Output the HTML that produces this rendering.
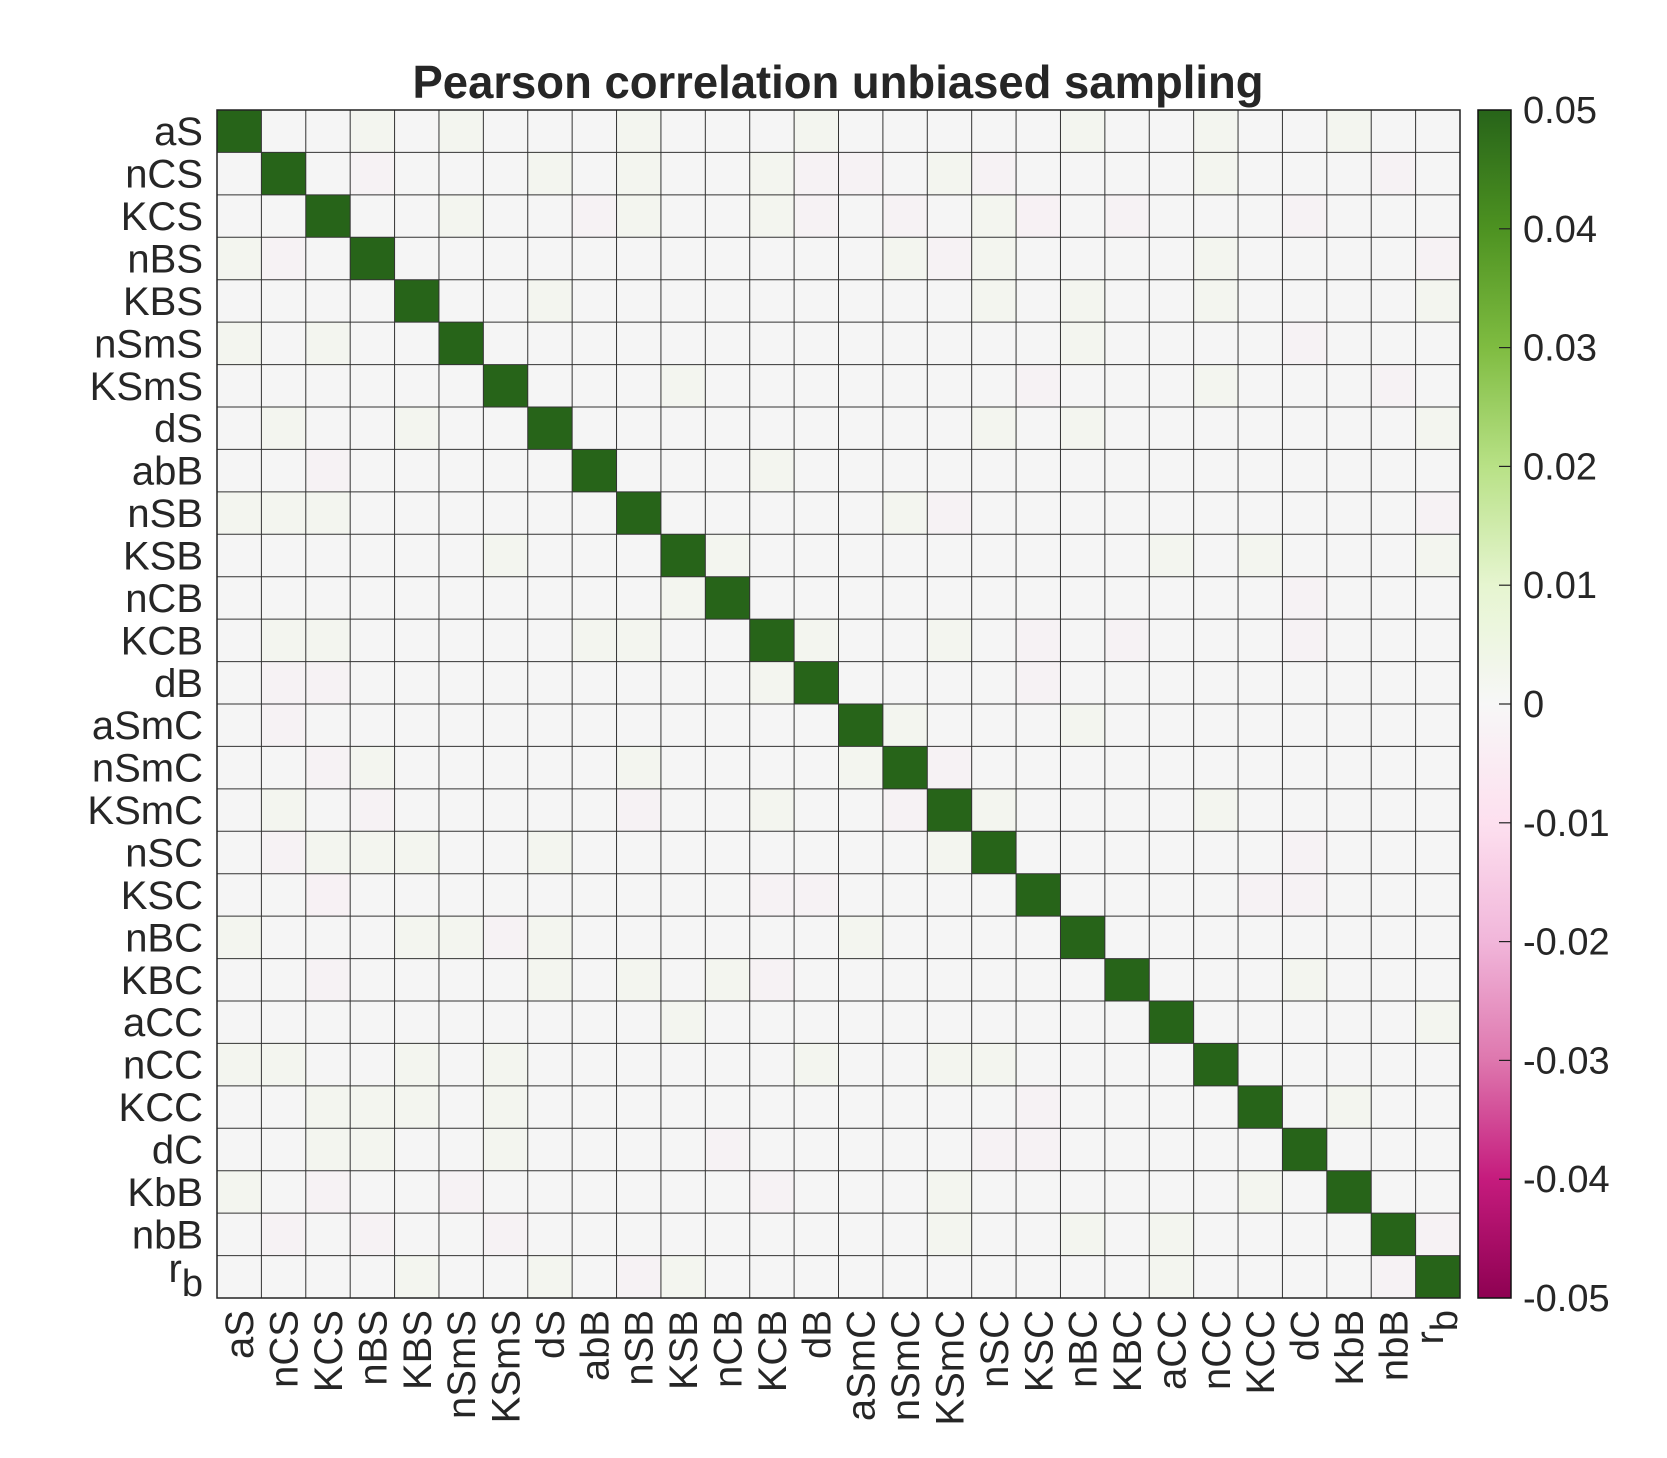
<!DOCTYPE html>
<html><head><meta charset="utf-8"><style>
html,body{margin:0;padding:0;background:#fff;}
svg{display:block;font-family:"Liberation Sans",Arial,sans-serif;}
</style></head><body>
<svg id="chart" width="1667" height="1458" viewBox="0 0 1667 1458" xmlns="http://www.w3.org/2000/svg">
<defs>
<linearGradient id="piyg" x1="0" y1="1" x2="0" y2="0">
<stop offset="0" stop-color="#8e0152"/><stop offset="0.1" stop-color="#c51b7d"/><stop offset="0.2" stop-color="#de77ae"/><stop offset="0.3" stop-color="#f1b6da"/><stop offset="0.4" stop-color="#fde0ef"/><stop offset="0.5" stop-color="#f7f7f7"/><stop offset="0.6" stop-color="#e6f5d0"/><stop offset="0.7" stop-color="#b8e186"/><stop offset="0.8" stop-color="#7fbc41"/><stop offset="0.9" stop-color="#4d9221"/><stop offset="1" stop-color="#276419"/>
</linearGradient>
</defs>
<text x="838" y="98" text-anchor="middle" font-size="46" font-weight="bold" fill="#262626" textLength="851" lengthAdjust="spacingAndGlyphs">Pearson correlation unbiased sampling</text>
<g id="cells"></g>
<g id="grid"></g>
<rect x="217" y="110" width="1243" height="1188" fill="none" stroke="#222" stroke-width="1.5"/>
<g id="ylabels"></g>
<g id="xlabels"></g>
<rect x="1478" y="110" width="33" height="1188" fill="url(#piyg)" stroke="#111" stroke-width="1.5"/>
<g id="cbticks"></g>
</svg>
<script>
const categories = ["aS","nCS","KCS","nBS","KBS","nSmS","KSmS","dS","abB","nSB","KSB","nCB","KCB","dB","aSmC","nSmC","KSmC","nSC","KSC","nBC","KBC","aCC","nCC","KCC","dC","KbB","nbB","r_b"];
const diagValues = [1,1,1,1,1,1,1,1,1,1,1,1,1,1,1,1,1,1,1,1,1,1,1,1,1,1,1,1];
const cellRows = [0,0,0,0,0,0,0, 1,1,1,1,1,1,1,1,1,1, 2,2,2,2,2,2,2,2,2,2, 3,3,3,3,3,3,3, 4,4,4,4,4, 5,5,5,5, 6,6,6,6, 7,7,7,7,7, 8,8, 9,9,9,9,9,9, 10,10,10,10,10, 11,11, 12,12,12,12,12,12,12,12,12, 13,13,13,13, 14,14,14, 15,15,15,15,15, 16,16,16,16,16,16,16, 17,17,17,17,17,17,17, 18,18,18,18,18, 19,19,19,19,19,19, 20,20,20,20,20,20, 21,21, 22,22,22,22,22,22,22, 23,23,23,23,23,23, 24,24,24,24,24,24, 25,25,25,25,25,25, 26,26,26,26,26,26,26, 27,27,27,27,27,27,27];
const cellCols = [3,5,9,13,19,22,25, 3,7,9,12,13,14,16,17,22,26, 5,8,9,12,13,15,17,18,20,24, 0,1,15,16,17,22,27, 7,17,19,22,27, 0,2,19,24, 10,18,22,26, 1,4,17,19,27, 2,12, 0,1,2,15,16,27, 6,11,21,23,27, 10,24, 1,2,8,9,13,16,18,20,24, 1,2,12,18, 1,15,19, 2,3,9,14,16, 1,3,9,12,15,17,22, 1,2,3,4,7,16,24, 2,12,13,23,24, 0,4,5,6,7,14, 2,7,9,11,12,24, 10,27, 0,1,4,6,13,16,17, 2,3,4,6,18,25, 2,3,6,11,17,18, 0,2,5,12,16,23, 1,6,16,19,21,27, 3,4,7,9,10,21,26];
const cellValues = [.0015,.0015,.0015,.0015,.0015,.0015,.0015, -.0015,.0015,.0015,.0015,-.0015,-.0015,.0015,-.0015,.0015,-.0015, .0015,-.0015,.0015,.0015,-.0015,-.0015,.0015,-.002,-.0015,-.0015, .0015,-.0015,.0015,-.0015,.0015,.0015,-.0015, .0015,.0015,.0015,.0015,.0015, .0015,.0015,.0015,-.0015, .0015,-.0015,.0015,-.0015, .0015,.0015,.0015,.0015,.0015, -.0015,.0015, .0015,.0015,.0015,.0015,-.0015,-.0015, .0015,.0015,.0015,.0015,.0015, .0015,-.0015, .0015,.0015,.0015,.0015,.0015,.0015,-.0015,-.0015,-.0015, -.0015,-.0015,.0015,-.0015, -.0015,.0015,.0015, -.0015,.0015,.0015,.0015,-.0015, .0015,-.0015,-.0015,.0015,-.0015,.0015,.0015, -.0015,.0015,.0015,.0015,.0015,.0015,-.0015, -.002,-.0015,-.0015,-.0015,-.0015, .0015,.0015,.0015,-.0015,.0015,.0015, -.0015,.0015,.0015,.0015,-.0015,.0015, .0015,.0015, .0015,.0015,.0015,.0015,.0015,.0015,.0015, .0015,.0015,.0015,.0015,-.0015,.0015, .0015,.0015,.0015,-.0015,-.0015,-.0015, .0015,-.0015,-.0015,-.0015,.0015,.0015, -.0015,-.0015,.0015,.0015,.0015,-.0015, -.0015,.0015,.0015,-.0015,.0015,.0015,-.0015];
const tickValues = [0.05,0.04,0.03,0.02,0.01,0,-0.01,-0.02,-0.03,-0.04,-0.05];
const tickLabels = ["0.05","0.04","0.03","0.02","0.01","0","-0.01","-0.02","-0.03","-0.04","-0.05"];

const NS="http://www.w3.org/2000/svg";
const X0=217,X1=1460,Y0=110,Y1=1298,N=categories.length;
const cw=(X1-X0)/N, ch=(Y1-Y0)/N;
const xPos=i=>X0+i*cw, yPos=i=>Y0+i*ch;
const cbY=v=>Y0+(0.05-v)/0.1*(Y1-Y0);
const stops=[[142,1,82],[197,27,125],[222,119,174],[241,182,218],[253,224,239],[245,245,245],[230,245,208],[184,225,134],[127,188,65],[77,146,33],[39,100,25]];
function color(v){
  let t=(Math.max(-0.05,Math.min(0.05,v))+0.05)/0.1*10;
  let i=Math.min(9,Math.floor(t)),f=t-i;
  const a=stops[i],b=stops[i+1];
  const c=a.map((x,k)=>Math.round(x+(b[k]-x)*f));
  return `rgb(${c[0]},${c[1]},${c[2]})`;
}
const M=[];
for(let r=0;r<N;r++){M.push(new Array(N).fill(0));M[r][r]=diagValues[r];}
for(let k=0;k<cellRows.length;k++){M[cellRows[k]][cellCols[k]]=cellValues[k];}
const gC=document.getElementById('cells');
for(let r=0;r<N;r++)for(let c=0;c<N;c++){
  const e=document.createElementNS(NS,'rect');
  e.setAttribute('x',xPos(c));e.setAttribute('y',yPos(r));
  e.setAttribute('width',cw+0.5);e.setAttribute('height',ch+0.5);
  e.setAttribute('fill',color(M[r][c]));
  
  
  gC.appendChild(e);
}
const gG=document.getElementById('grid');
for(let i=1;i<N;i++){
  const l1=document.createElementNS(NS,'line');
  l1.setAttribute('x1',xPos(i));l1.setAttribute('x2',xPos(i));l1.setAttribute('y1',Y0);l1.setAttribute('y2',Y1);
  l1.setAttribute('stroke','#333');l1.setAttribute('stroke-width','1');
  
  
  gG.appendChild(l1);
  const l2=document.createElementNS(NS,'line');
  l2.setAttribute('y1',yPos(i));l2.setAttribute('y2',yPos(i));l2.setAttribute('x1',X0);l2.setAttribute('x2',X1);
  l2.setAttribute('stroke','#333');l2.setAttribute('stroke-width','1');
  
  
  gG.appendChild(l2);
}
function labelContent(t,name){
  if(name==='r_b'){
    const a=document.createElementNS(NS,'tspan');a.textContent='r';
    const b=document.createElementNS(NS,'tspan');b.textContent='b';b.setAttribute('dy','14');b.setAttribute('font-size','38');
    t.appendChild(a);t.appendChild(b);
  } else t.textContent=name;
}
const gY=document.getElementById('ylabels'),gX=document.getElementById('xlabels');
categories.forEach((name,i)=>{
  const t=document.createElementNS(NS,'text');
  t.setAttribute('x',203);t.setAttribute('y',yPos(i)+ch/2+(name==='r_b'?5:14));
  t.setAttribute('text-anchor','end');t.setAttribute('font-size','40');t.setAttribute('fill','#262626');
  labelContent(t,name);
  
  
  gY.appendChild(t);
  const u=document.createElementNS(NS,'text');
  const cx=xPos(i)+cw/2+(name==='r_b'?5:14), cy=1310;
  u.setAttribute('x',cx);u.setAttribute('y',cy);
  u.setAttribute('transform',`rotate(-90 ${cx} ${cy})`);
  u.setAttribute('text-anchor','end');u.setAttribute('font-size','40');u.setAttribute('fill','#262626');
  labelContent(u,name);
  
  
  gX.appendChild(u);
});
const gT=document.getElementById('cbticks');
tickValues.forEach((v,i)=>{
  const y=cbY(v);
  if(i>0&&i<tickValues.length-1){
    const l=document.createElementNS(NS,'line');
    l.setAttribute('x1',1499);l.setAttribute('x2',1511);l.setAttribute('y1',y);l.setAttribute('y2',y);
    l.setAttribute('stroke','#222');l.setAttribute('stroke-width','1.2');
    
    
    gT.appendChild(l);
  }
  const t=document.createElementNS(NS,'text');
  t.setAttribute('x',1523);t.setAttribute('y',y+13);
  t.setAttribute('font-size','38');t.setAttribute('fill','#262626');
  t.textContent=tickLabels[i];
  
  
  gT.appendChild(t);
});
</script>
</body></html>
